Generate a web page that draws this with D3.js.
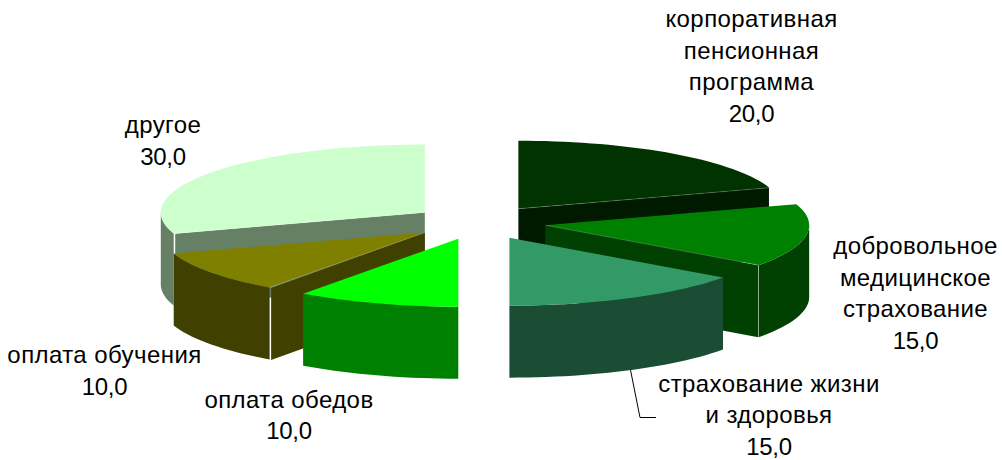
<!DOCTYPE html>
<html lang="ru">
<head>
<meta charset="utf-8">
<title>Структура социального пакета</title>
<script src="https://cdn.jsdelivr.net/npm/d3@7"></script>
<style>
  html, body { margin: 0; padding: 0; background: #fff; }
  svg { display: block; }
  text { font-family: "Liberation Sans", Arial, sans-serif; font-size: 24px; fill: #000; }
  .row { letter-spacing: 0.42px; }
  .value { letter-spacing: -0.3px; }
</style>
</head>
<body>
<div id="chart"></div>
<script>
// Slices run clockwise from 12 o'clock
const categories = [
  ['корпоративная', 'пенсионная', 'программа'],
  ['добровольное', 'медицинское', 'страхование'],
  ['страхование жизни', 'и здоровья'],
  ['оплата обедов'],
  ['оплата обучения'],
  ['другое']
];
const values = [20, 15, 15, 10, 10, 30];
const sliceColors = ['#003300', '#008000', '#339966', '#00ff00', '#808000', '#ccffcc'];

// Back slices first so the nearer ones paint over them
const drawOrder = [0, 1, 2, 5, 4, 3];

// Label centre x and first baseline y for each slice
const labelX = [751.5, 915.5, 769, 289, 104.5, 163];
const labelY = [27, 254, 391.5, 407.7, 363.3, 133.3];
const lineStep = 31.7;

const width = 1002;
const height = 460;
const center = { x: 479, y: 222.5 };
const radius = { x: 264, y: 68 };
const explode = { x: 67, y: 17 };
const depth = 72;
const seamLeft = 1.5;
const seamRight = 0.5;

const svg = d3.select('#chart')
  .append('svg')
  .attr('width', width)
  .attr('height', height);

// Unit circle to the flattened ellipse of the pie top
const xScale = d3.scaleLinear().domain([-1, 1]).range([-radius.x, radius.x]);
const yScale = d3.scaleLinear().domain([-1, 1]).range([-radius.y, radius.y]);

const arcs = d3.pie().sort(null).startAngle(0).endAngle(2 * Math.PI)(values);

const line = d3.line().x(d => d[0]).y(d => d[1]);
const closed = points => line(points) + 'Z';

/**
 * Halve a colour for the side walls
 */
function wallColor(color) {
  const c = d3.rgb(color);
  return d3.rgb(c.r / 2, c.g / 2, c.b / 2).formatHex();
}

/**
 * Apex of a slice after pulling it out along its middle angle
 */
function sliceApex(arc) {
  const mid = (arc.startAngle + arc.endAngle) / 2;
  return [
    center.x + explode.x * Math.sin(mid),
    center.y - explode.y * Math.cos(mid)
  ];
}

function rimPoint(apex, angle) {
  return [
    apex[0] + xScale(Math.sin(angle)),
    apex[1] + yScale(-Math.cos(angle))
  ];
}

function rimPoints(apex, from, to) {
  const steps = Math.max(2, Math.ceil(Math.abs(to - from) / (Math.PI / 90)));
  return d3.range(steps + 1).map(i => rimPoint(apex, from + (to - from) * i / steps));
}

const down = p => [p[0], p[1] + depth];

/**
 * Draw one exploded slice: radial walls, outer wall, then the top
 */
function drawSlice(group, arc, color) {
  const apex = sliceApex(arc);
  const side = wallColor(color);
  const eps = 1e-6;
  const a1 = arc.startAngle;
  const a2 = arc.endAngle;

  // Radial wall facing the viewer, if this slice has one
  const radialAngles = [];
  if (a1 > Math.PI + eps) radialAngles.push(a1);
  if (a2 < Math.PI - eps) radialAngles.push(a2);

  radialAngles.forEach(angle => {
    const rim = rimPoint(apex, angle);
    // stop just short of the rim so the corner reads as a thin light seam
    const dir = rim[0] > apex[0] ? -seamRight : seamLeft;
    const end = [rim[0] + dir, rim[1] + dir * (apex[1] - rim[1]) / (rim[0] - apex[0])];
    group.append('path')
      .attr('d', closed([apex, end, down(end), down(apex)]))
      .attr('fill', side);
  });

  // Outer wall, only the part on the near half of the ellipse
  const from = Math.max(a1, Math.PI / 2);
  const to = Math.min(a2, 3 * Math.PI / 2);
  if (to > from) {
    const rim = rimPoints(apex, from, to);
    group.append('path')
      .attr('d', closed(rim.concat(rim.slice().reverse().map(down))))
      .attr('fill', side);
  }

  // Top face
  group.append('path')
    .attr('d', closed([apex].concat(rimPoints(apex, a1, a2))))
    .attr('fill', color);

  // Faint highlight along the edge between the top and a radial wall
  radialAngles.forEach(angle => {
    group.append('path')
      .attr('d', line([apex, rimPoint(apex, angle)]))
      .attr('fill', 'none')
      .attr('stroke', '#fff')
      .attr('stroke-opacity', 0.3)
      .attr('stroke-width', 0.7);
  });
}

const slices = svg.append('g').attr('class', 'slices');
drawOrder.forEach(i => {
  drawSlice(slices.append('g'), arcs[i], sliceColors[i]);
});

// Leader from the life insurance slice to its label
const lifeApex = sliceApex(arcs[2]);
const leaderStart = down(rimPoint(lifeApex, 2.665));
svg.append('path')
  .attr('d', line([leaderStart, [640, 417.5], [656, 417.5]]))
  .attr('fill', 'none')
  .attr('stroke', '#000')
  .attr('stroke-width', 1);

// Category lines followed by the value with a decimal comma
const formatValue = v => d3.format('.1f')(v).replace('.', ',');

const labels = svg.append('g').attr('class', 'labels');
categories.forEach((lines, i) => {
  const text = labels.append('text')
    .attr('text-anchor', 'middle');
  lines.forEach((row, j) => {
    text.append('tspan')
      .attr('class', 'row')
      .attr('x', labelX[i])
      .attr('y', labelY[i] + j * lineStep)
      .text(row);
  });
  text.append('tspan')
    .attr('class', 'value')
    .attr('x', labelX[i])
    .attr('y', labelY[i] + lines.length * lineStep)
    .text(formatValue(values[i]));
});
</script>
</body>
</html>
